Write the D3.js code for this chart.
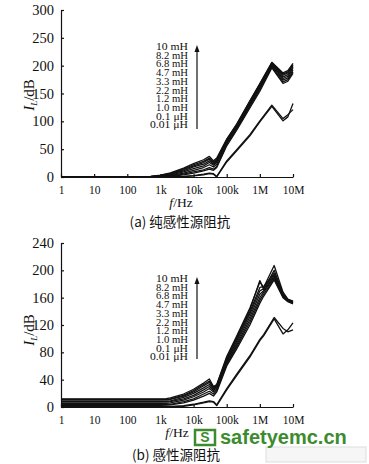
<!DOCTYPE html>
<html><head><meta charset="utf-8">
<script src="https://cdn.jsdelivr.net/npm/d3@7"></script>
<style>
html,body{margin:0;padding:0;background:#fff;}
svg{display:block;}
</style></head>
<body>
<svg id="c" width="369" height="464"></svg>
<script>
// ---------- data ----------
const seriesNames = ["10 mH","8.2 mH","6.8 mH","4.7 mH","3.3 mH","2.2 mH","1.2 mH","1.0 mH","0.1 μH","0.01 μH"];
const xTickValues = [1,10,100,1e3,1e4,1e5,1e6,1e7];
const xTickLabels = ["1","10","100","1k","10k","100k","1M","10M"];
const yTicksA = [0,50,100,150,200,250,300];
const yTicksB = [0,40,80,120,160,200,240];

// (a) pure inductive source impedance
const freqA = [1,10,100,500,1e3,2e3,5e3,1e4,2e4,3e4,4e4,5e4,1e5,2e5,5e5,1e6,2.3e6,5e6,7e6,1e7];
const a10mH  = [0,0,0,1.0,3.3,7.5,16,24,31,37,29,34,68,95,137,168,206,187,191,204];
const a8_2mH = [0,0,0,0.8,2.8,6.5,14,22,28,34,27,32,67,94,136,167,205,185,189,202];
const a6_8mH = [0,0,0,0.6,2.3,5.5,13,20,26,32,25,30,66,93,135,166,204,183,187,200];
const a4_7mH = [0,0,0,0.5,1.8,4.5,11,18,23,29,23,28,65,92,133,164,203,180,184,198];
const a3_3mH = [0,0,0,0.3,1.3,3.5,9,15,20,26,21,26,63,90,131,162,202,177,181,195];
const a2_2mH = [0,0,0,0.2,1.0,2.5,7,12,17,22,18,23,61,88,129,160,200,174,178,192];
const a1_2mH = [0,0,0,0,0.5,1.5,5,9,13,17,14,19,58,86,127,157,198,171,175,189];
const a1_0mH = [0,0,0,0,0.3,1.0,4,7,11,14,12,17,56,84,124,154,196,168,172,186];
const a0_1uH = [0,0,0,0,0,0.2,1,2.5,5,7,6,1,29,49,76,101,129,105,112,121];
const a0_01uH= [0,0,0,0,0,0,0.5,2,4,6,5,0,27,47,74,99,127,101,108,132];

// (b) inductive source impedance
const freqB = [1,10,100,1e3,1.5e3,2e3,5e3,1e4,2e4,3e4,4e4,5e4,1e5,2e5,5e5,1e6,1.3e6,2.7e6,5e6,7e6,1e7];
const b10mH  = [12,12,12,12,12.3,13.5,19,26,35,41,30,33,74,104,145,183,175,207,168,158,155];
const b8_2mH = [11,11,11,11,11.2,12,17,24,33,38,29,32,72,102,142,185,172,200,166,157,154];
const b6_8mH = [10,10,10,10,10.2,11,16,22,31,36,28,31,70,100,139,175,176,196,165,157,154];
const b4_7mH = [8,8,8,8,8.2,9,14,20,28,33,26,30,68,97,136,170,173,194,164,156,153];
const b3_3mH = [7,7,7,7,7.2,8,12,17,25,30,24,28,66,94,132,165,170,192,163,156,153];
const b2_2mH = [5,5,5,5,5.2,6,10,15,22,27,22,26,64,91,128,160,168,190,162,155,152];
const b1_2mH = [3.5,3.5,3.5,3.5,3.6,4,8,12,19,23,19,24,62,88,124,156,165,188,161,155,152];
const b1_0mH = [2.5,2.5,2.5,2.5,2.6,3,6,10,16,20,16,22,60,85,120,152,162,186,160,154,151];
const b0_1uH = [1,1,1,1,1,1,2,4,7,9,8,3,27,48,75,99,106,131,115,110,113];
const b0_01uH= [0.5,0.5,0.5,0.5,0.5,0.5,1,3,6,8,7,2,25,46,73,97,104,129,107,113,123];

const seriesA = [a10mH,a8_2mH,a6_8mH,a4_7mH,a3_3mH,a2_2mH,a1_2mH,a1_0mH,a0_1uH,a0_01uH];
const seriesB = [b10mH,b8_2mH,b6_8mH,b4_7mH,b3_3mH,b2_2mH,b1_2mH,b1_0mH,b0_1uH,b0_01uH];

// ---------- drawing ----------
const SERIF = "'Liberation Serif','DejaVu Serif',serif";
const svg = d3.select("#c");

function panel(cfg){
  const x = d3.scaleLog().domain([1,1e7]).range([61,293]);
  const y = d3.scaleLinear().domain([0,cfg.yMax]).range([cfg.y0,cfg.y1]);
  const g = svg.append("g");

  const line = d3.line().x((d,i)=>x(cfg.freq[i])).y(d=>y(d));
  cfg.series.forEach(s=>{
    g.append("path").datum(s).attr("d",line)
      .attr("fill","none").attr("stroke","#111").attr("stroke-width",1.3)
      .attr("stroke-linejoin","round");
  });

  const xa = d3.axisBottom(x).tickValues(xTickValues)
    .tickFormat((d,i)=>xTickLabels[i]).tickSizeInner(-3).tickSizeOuter(0).tickPadding(9);
  const gx = g.append("g").attr("transform",`translate(0,${cfg.y0})`).call(xa)
    .attr("font-family",SERIF).attr("font-size",11);
  gx.selectAll("text").style("font-family",SERIF).style("font-size","11.5px").attr("fill","#111");
  gx.selectAll("path,line").attr("stroke","#111").attr("stroke-width",1.2);

  const ya = d3.axisLeft(y).tickValues(cfg.yTicks).tickSizeInner(-3).tickSizeOuter(0).tickPadding(7);
  const gy = g.append("g").attr("transform","translate(61,0)").call(ya)
    .attr("font-family",SERIF).attr("font-size",14);
  gy.selectAll("text").style("font-family",SERIF).style("font-size","14.5px").attr("fill","#111");
  gy.selectAll("path,line").attr("stroke","#111").attr("stroke-width",1.2);

  // y title
  const yt = g.append("text")
    .attr("transform",`translate(34,${cfg.yTitleY}) rotate(-90)`)
    .attr("text-anchor","middle").style("font-family",SERIF).style("font-size","15px").attr("fill","#111");
  yt.append("tspan").text("I").style("font-style","italic");
  yt.append("tspan").text("L").style("font-style","italic").style("font-size","9px").attr("dy",3);
  yt.append("tspan").text("/dB").attr("dy",-3);

  // x title
  const xt = g.append("text").attr("x",cfg.fx).attr("y",cfg.fy)
    .attr("text-anchor","middle").style("font-family",SERIF).style("font-size","13.5px").attr("fill","#111");
  xt.append("tspan").text("f").style("font-style","italic");
  xt.append("tspan").text("/Hz");

  // caption
  g.append("text").attr("x",cfg.capX).attr("y",cfg.capY).attr("text-anchor","middle")
    .style("font-family","'Noto Sans CJK SC',sans-serif").style("font-size","13.5px")
    .attr("fill","#111").text(cfg.caption);

  // legend labels + arrow
  seriesNames.forEach((n,i)=>{
    g.append("text").attr("x",188).attr("y",cfg.legTop+i*8.7)
      .attr("text-anchor","end").style("font-family",SERIF).style("font-size","9.5px").attr("fill","#111")
      .attr("textLength", n.length>6?38:32).attr("lengthAdjust","spacingAndGlyphs").text(n);
  });
  g.append("line").attr("x1",197).attr("x2",197).attr("y1",cfg.arrBot).attr("y2",cfg.arrTop+5)
    .attr("stroke","#111").attr("stroke-width",1.2);
  g.append("path").attr("d",`M197,${cfg.arrTop} L194.5,${cfg.arrTop+7} L199.5,${cfg.arrTop+7}Z`).attr("fill","#111");
}

panel({freq:freqA, series:seriesA, yMax:300, y0:177, y1:10, yTicks:yTicksA,
  yTitleY:95, fx:181, fy:207, capX:180, capY:227, caption:"(a) 纯感性源阻抗",
  legTop:50, arrTop:45, arrBot:129});
panel({freq:freqB, series:seriesB, yMax:240, y0:407, y1:243, yTicks:yTicksB,
  yTitleY:330, fx:177, fy:437, capX:176, capY:460, caption:"(b) 感性源阻抗",
  legTop:282, arrTop:277, arrBot:359});

// watermark
svg.append("rect").attr("x",266).attr("y",447).attr("width",100).attr("height",15)
  .attr("fill","#f6f6f6").attr("stroke","#ddd");
svg.append("rect").attr("x",195).attr("y",430).attr("width",20).attr("height",15)
  .attr("fill","#fff").attr("stroke","#3d8b2f").attr("stroke-width",2.5);
svg.append("text").attr("x",205).attr("y",442).attr("text-anchor","middle")
  .style("font-family","'Liberation Sans',Arial,sans-serif").style("font-weight","bold")
  .style("font-size","14px").attr("fill","#3d8b2f").text("S");
svg.append("text").attr("x",220).attr("y",444)
  .style("font-family","'Liberation Sans',Arial,sans-serif").style("font-weight","bold")
  .style("font-size","20px").attr("fill","#3d8b2f").text("safetyemc.cn");
</script>
</body></html>
